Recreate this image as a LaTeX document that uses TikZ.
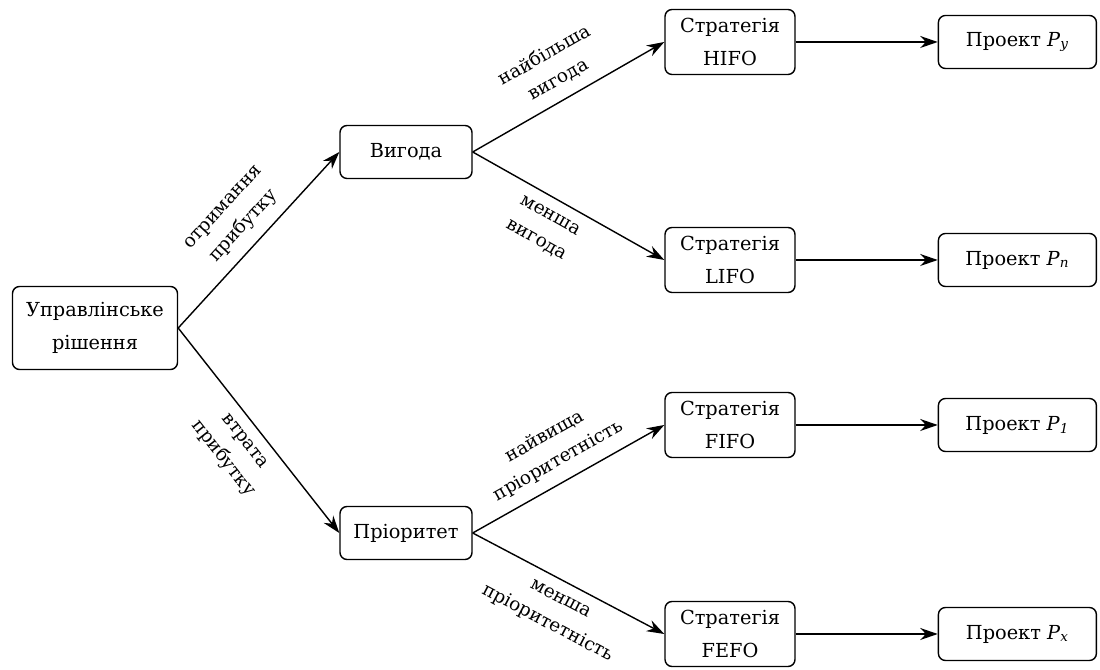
\documentclass[tikz,border=0pt]{standalone}
\usepackage{fontspec}
\setmainfont{DejaVu Serif}
\usetikzlibrary{arrows.meta,positioning}
\newcommand{\projsub}[1]{\textit{P}\textsubscript{\itshape #1}}

\begin{document}
\begin{tikzpicture}[
  >=Stealth,
  box/.style={draw,thick,rounded corners=4pt,align=center,minimum height=1.06cm},
  strat/.style={box,minimum width=2.6cm,minimum height=1.3cm},
  proj/.style={box,minimum width=3.16cm},
  flow/.style={thick,-{Stealth[length=3.5mm,width=2.4mm]}},
  lbl/.style={midway,sloped,align=center,font=\fontsize{10.5}{16}\selectfont},
  every node/.style={font=\fontsize{11}{18.5}\selectfont}
]
  \useasboundingbox (0,0) rectangle (22,13.4);
  \node[box,minimum width=3.3cm,minimum height=1.66cm] (root) at (1.9,6.84) {Управлінське\\рішення};
  \node[box,minimum width=2.64cm] (vyhoda) at (8.12,10.36) {Вигода};
  \node[box,minimum width=2.64cm] (priorytet) at (8.12,2.74) {Пріоритет};
  \node[strat] (hifo) at (14.6,12.56) {Стратегія\\HIFO};
  \node[strat] (lifo) at (14.6,8.2) {Стратегія\\LIFO};
  \node[strat] (fifo) at (14.6,4.9) {Стратегія\\FIFO};
  \node[strat] (fefo) at (14.6,0.72) {Стратегія\\FEFO};
  \node[proj,right=2.84cm of hifo] (py) {Проект \projsub{y}};
  \node[proj,right=2.84cm of lifo] (pn) {Проект \projsub{n}};
  \node[proj,right=2.84cm of fifo] (p1) {Проект \projsub{1}};
  \node[proj,right=2.84cm of fefo] (px) {Проект \projsub{x}};

  \draw[flow] (root.east) -- node[lbl,above=3pt]{отримання\\прибутку} (vyhoda.west);
  \draw[flow] (root.east) -- node[lbl,below=3pt]{втрата\\прибутку} (priorytet.west);
  \draw[flow] (vyhoda.east) -- node[lbl,above=3pt]{найбільша\\вигода} (hifo.west);
  \draw[flow] (vyhoda.east) -- node[lbl,below=3pt,pos=.45]{менша\\вигода} (lifo.west);
  \draw[flow] (priorytet.east) -- node[lbl,above=3pt]{найвища\\пріоритетність} (fifo.west);
  \draw[flow] (priorytet.east) -- node[lbl,below=3pt]{менша\\пріоритетність} (fefo.west);
  \draw[flow] (hifo) -- (py);
  \draw[flow] (lifo) -- (pn);
  \draw[flow] (fifo) -- (p1);
  \draw[flow] (fefo) -- (px);
\end{tikzpicture}
\end{document}
